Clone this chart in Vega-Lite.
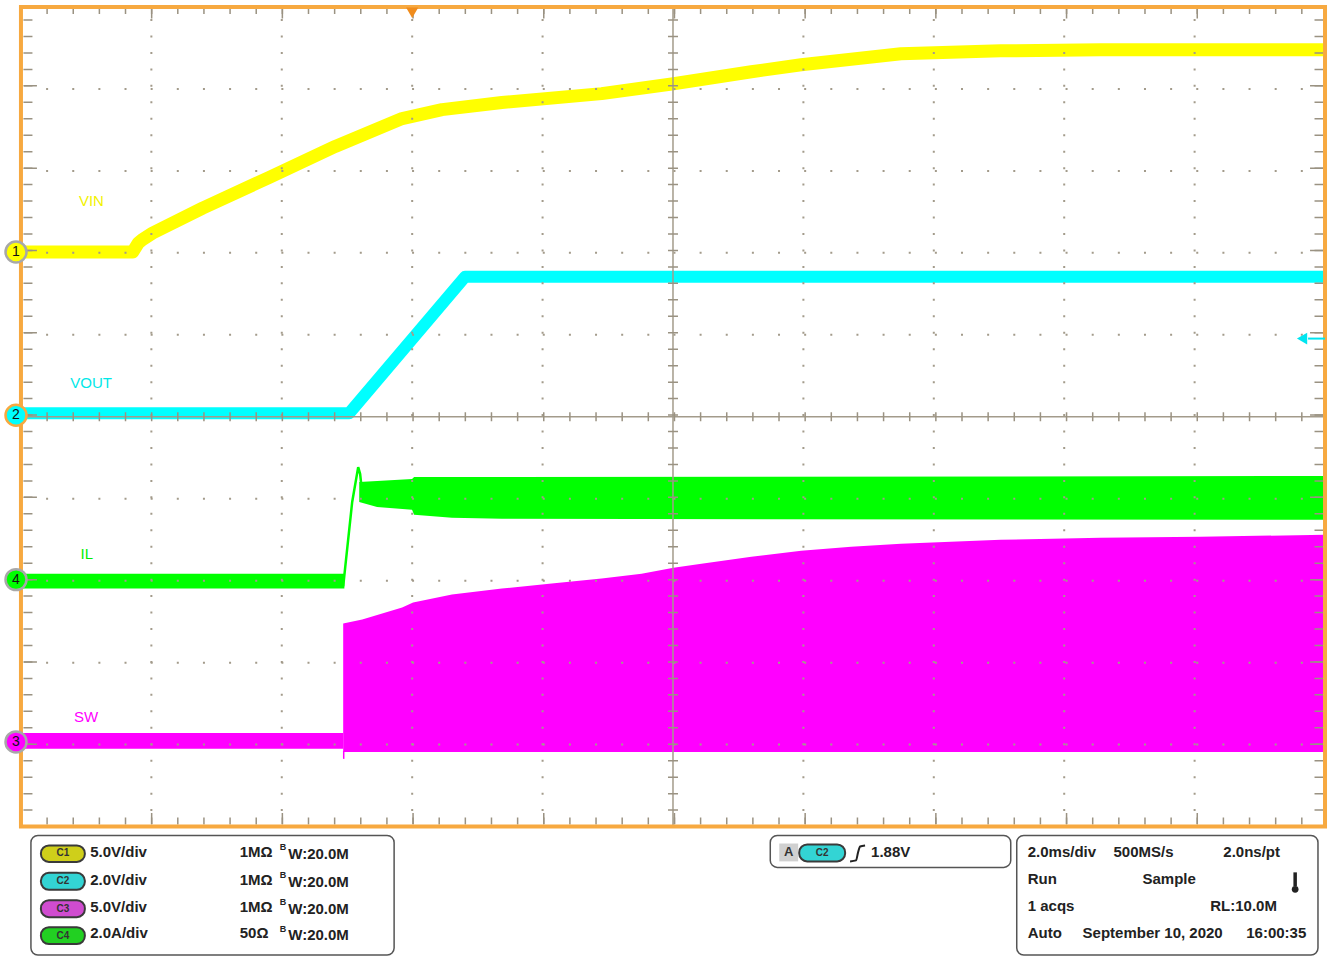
{
"$schema":"https://vega.github.io/schema/vega-lite/v6.json",
"width":1333,"height":958,
"autosize":{"type":"fit","contains":"padding"},
"padding":0,
"background":"#ffffff",
"view":{"stroke":null},
"config":{"font":"Liberation Sans"},
"resolve":{"scale":{"fill":"independent","stroke":"independent","color":"independent"}},
"encoding":{
 "x":{"field":"x","type":"quantitative","scale":{"domain":[-0.13772,10.06121],"nice":false,"zero":false},"axis":null},
 "y":{"field":"y","type":"quantitative","scale":{"domain":[-1.6039,10.0365],"nice":false,"zero":false},"axis":null}
},
"datasets":{
 "vin":[{"x":0,"y":7.011},{"x":0.857,"y":7.011},{"x":0.9,"y":7.12},{"x":0.93,"y":7.16},{"x":1.01,"y":7.242},{"x":1.393,"y":7.546},{"x":1.905,"y":7.922},{"x":2.41,"y":8.299},{"x":2.923,"y":8.639},{"x":3.229,"y":8.748},{"x":3.688,"y":8.834},{"x":4.453,"y":8.943},{"x":5.004,"y":9.064},{"x":5.601,"y":9.21},{"x":5.983,"y":9.295},{"x":6.748,"y":9.429},{"x":7.513,"y":9.465},{"x":8.279,"y":9.478},{"x":10,"y":9.478}],
 "vout":[{"x":0,"y":5.043},{"x":2.517,"y":5.043},{"x":3.405,"y":6.707},{"x":10,"y":6.707}],
 "il":[{"seg":"a","x":0,"y":3.086,"y2":2.904},{"seg":"a","x":2.48,"y":3.086,"y2":2.904},
  {"seg":"b","x":2.594,"y":4.204,"y2":3.961},{"seg":"b","x":2.731,"y":4.216,"y2":3.9},{"seg":"b","x":2.999,"y":4.241,"y2":3.864},{"seg":"b","x":3.015,"y":4.265,"y2":3.803},{"seg":"b","x":3.305,"y":4.265,"y2":3.767},{"seg":"b","x":3.688,"y":4.265,"y2":3.755},{"seg":"b","x":10,"y":4.277,"y2":3.742}],
 "ilspike":[{"x":2.471,"y":2.93},{"x":2.487,"y":3.171},{"x":2.54,"y":3.961},{"x":2.586,"y":4.386},{"x":2.601,"y":4.301},{"x":2.624,"y":3.961}],
 "sw":[{"seg":"a","x":0,"y":1.142,"y2":0.948},{"seg":"a","x":2.471,"y":1.142,"y2":0.948},
  {"seg":"b","x":2.471,"y":2.479,"y2":0.91},{"seg":"b","x":2.617,"y":2.527,"y2":0.91},{"seg":"b","x":2.923,"y":2.673,"y2":0.91},{"seg":"b","x":3.007,"y":2.734,"y2":0.91},{"seg":"b","x":3.305,"y":2.831,"y2":0.91},{"seg":"b","x":3.688,"y":2.904,"y2":0.91},{"seg":"b","x":4.07,"y":2.965,"y2":0.91},{"seg":"b","x":4.453,"y":3.026,"y2":0.91},{"seg":"b","x":4.759,"y":3.086,"y2":0.91},{"seg":"b","x":5.004,"y":3.159,"y2":0.91},{"seg":"b","x":5.218,"y":3.208,"y2":0.91},{"seg":"b","x":5.601,"y":3.293,"y2":0.91},{"seg":"b","x":5.983,"y":3.366,"y2":0.91},{"seg":"b","x":6.366,"y":3.414,"y2":0.91},{"seg":"b","x":6.748,"y":3.451,"y2":0.91},{"seg":"b","x":7.513,"y":3.499,"y2":0.91},{"seg":"b","x":8.279,"y":3.524,"y2":0.91},{"seg":"b","x":9.044,"y":3.536,"y2":0.91},{"seg":"b","x":10,"y":3.56,"y2":0.91}],
 "gridv":[{"x":1,"y":0,"y2":10},{"x":2,"y":0,"y2":10},{"x":3,"y":0,"y2":10},{"x":4,"y":0,"y2":10},{"x":6,"y":0,"y2":10},{"x":7,"y":0,"y2":10},{"x":8,"y":0,"y2":10},{"x":9,"y":0,"y2":10}],
 "gridh":[{"y":1,"x":0,"x2":10},{"y":2,"x":0,"x2":10},{"y":3,"x":0,"x2":10},{"y":4,"x":0,"x2":10},{"y":6,"x":0,"x2":10},{"y":7,"x":0,"x2":10},{"y":8,"x":0,"x2":10},{"y":9,"x":0,"x2":10}],
 "markers":[{"x":-0.038,"y":7.011,"ch":"1"},{"x":-0.038,"y":5.018,"ch":"2"},{"x":-0.038,"y":3.013,"ch":"4"},{"x":-0.038,"y":1.033,"ch":"3"}],
 "tlabels":[{"x":0.54,"y":7.637,"t":"VIN","ch":"1"},{"x":0.538,"y":5.407,"t":"VOUT","ch":"2"},{"x":0.505,"y":3.329,"t":"IL","ch":"4"},{"x":0.5,"y":1.337,"t":"SW","ch":"3"}],
 "boxes":[{"x":0.0765,"x2":2.8615,"y":-0.1094,"y2":-1.5674},{"x":5.746,"x2":7.59,"y":-0.1094,"y2":-0.4982},{"x":7.636,"x2":9.946,"y":-0.1094,"y2":-1.5674}],
 "badges":[{"ch":"C1","x":0.153,"x2":0.49,"y":-0.2309,"y2":-0.4313},{"ch":"C2","x":0.153,"x2":0.49,"y":-0.565,"y2":-0.7716},{"ch":"C3","x":0.153,"x2":0.49,"y":-0.8991,"y2":-1.1057},{"ch":"C4","x":0.153,"x2":0.49,"y":-1.2272,"y2":-1.4338},{"ch":"C2","x":5.968,"x2":6.32,"y":-0.2187,"y2":-0.4253}],
 "badgetext":[{"ch":"C1","x":0.321,"y":-0.328},{"ch":"C2","x":0.321,"y":-0.668},{"ch":"C3","x":0.321,"y":-1.002},{"ch":"C4","x":0.321,"y":-1.33},{"ch":"C2","x":6.144,"y":-0.322}],
 "info":[{"x":0.531,"y":-0.312,"t":"5.0V/div"},{"x":0.531,"y":-0.648,"t":"2.0V/div"},{"x":0.531,"y":-0.981,"t":"5.0V/div"},{"x":0.531,"y":-1.304,"t":"2.0A/div"},
  {"x":1.678,"y":-0.312,"t":"1MΩ"},{"x":1.678,"y":-0.648,"t":"1MΩ"},{"x":1.678,"y":-0.981,"t":"1MΩ"},{"x":1.678,"y":-1.304,"t":"50Ω"},
  {"x":2.05,"y":-0.336,"t":"W:20.0M"},{"x":2.05,"y":-0.672,"t":"W:20.0M"},{"x":2.05,"y":-1.005,"t":"W:20.0M"},{"x":2.05,"y":-1.328,"t":"W:20.0M"},
  {"x":6.519,"y":-0.312,"t":"1.88V"},
  {"x":7.72,"y":-0.316,"t":"2.0ms/div"},{"x":8.378,"y":-0.316,"t":"500MS/s"},{"x":9.22,"y":-0.316,"t":"2.0ns/pt"},
  {"x":7.72,"y":-0.644,"t":"Run"},{"x":8.6,"y":-0.644,"t":"Sample"},
  {"x":7.72,"y":-0.972,"t":"1 acqs"},{"x":9.12,"y":-0.972,"t":"RL:10.0M"},
  {"x":7.72,"y":-1.3,"t":"Auto"},{"x":8.141,"y":-1.3,"t":"September 10, 2020"},{"x":9.396,"y":-1.3,"t":"16:00:35"}],
 "bsup":[{"x":1.985,"y":-0.255,"t":"B"},{"x":1.985,"y":-0.591,"t":"B"},{"x":1.985,"y":-0.924,"t":"B"},{"x":1.985,"y":-1.247,"t":"B"}]
},
"layer":[
 {"data":{"name":"sw"},"mark":{"type":"area","color":"#FF00FF","opacity":1},"encoding":{"y2":{"field":"y2"},"detail":{"field":"seg"}}},
 {"data":{"values":[{"x":2.475,"y":0.923,"y2":0.826}]},"mark":{"type":"rule","color":"#FF00FF","strokeWidth":1.5},"encoding":{"y2":{"field":"y2"}}},
 {"data":{"name":"il"},"mark":{"type":"area","color":"#00FF00","opacity":1},"encoding":{"y2":{"field":"y2"},"detail":{"field":"seg"}}},
 {"data":{"name":"ilspike"},"mark":{"type":"line","color":"#00FF00","strokeWidth":2.5},"encoding":{}},
 {"data":{"name":"vout"},"mark":{"type":"line","color":"#00FFFF","strokeWidth":12,"strokeJoin":"round"},"encoding":{}},
 {"data":{"name":"vin"},"mark":{"type":"line","color":"#FFFF00","strokeWidth":13,"strokeJoin":"round"},"encoding":{}},
 {"data":{"name":"gridv"},"mark":{"type":"rule","color":"#A39B8B","strokeWidth":2,"strokeDash":[2,14.46],"strokeDashOffset":1},"encoding":{"y2":{"field":"y2"}}},
 {"data":{"name":"gridh"},"mark":{"type":"rule","color":"#A39B8B","strokeWidth":2,"strokeDash":[2,24.14],"strokeDashOffset":1},"encoding":{"x2":{"field":"x2"}}},
 {"data":{"values":[{"x":5,"y":0,"y2":10}]},"mark":{"type":"rule","color":"#A39B8B","strokeWidth":1.5},"encoding":{"y2":{"field":"y2"}}},
 {"data":{"values":[{"x":0,"x2":10,"y":5}]},"mark":{"type":"rule","color":"#A39B8B","strokeWidth":1.5},"encoding":{"x2":{"field":"x2"}}},
 {"data":{"values":[{"x":5,"y":0,"y2":10}]},"mark":{"type":"rule","color":"#9A9282","strokeWidth":10,"strokeDash":[1.5,14.96],"strokeDashOffset":0.75},"encoding":{"y2":{"field":"y2"}}},
 {"data":{"values":[{"x":0,"x2":10,"y":5}]},"mark":{"type":"rule","color":"#9A9282","strokeWidth":9,"strokeDash":[1.5,24.64],"strokeDashOffset":0.75},"encoding":{"x2":{"field":"x2"}}},
 {"data":{"values":[{"x":0,"x2":10,"y":9.957},{"x":0,"x2":10,"y":0.0668}]},"mark":{"type":"rule","color":"#9A9282","strokeWidth":7,"strokeDash":[1.5,24.64],"strokeDashOffset":0.75},"encoding":{"x2":{"field":"x2"}}},
 {"data":{"values":[{"x":0,"x2":10,"y":9.927},{"x":0,"x2":10,"y":0.0972}]},"mark":{"type":"rule","color":"#9A9282","strokeWidth":11,"strokeDash":[1.5,129.2],"strokeDashOffset":0.75},"encoding":{"x2":{"field":"x2"}}},
 {"data":{"values":[{"x":0.0536,"y":0,"y2":10},{"x":9.954,"y":0,"y2":10}]},"mark":{"type":"rule","color":"#9A9282","strokeWidth":9,"strokeDash":[1.5,14.96],"strokeDashOffset":0.75},"encoding":{"y2":{"field":"y2"}}},
 {"data":{"values":[{"x":0.0727,"y":0,"y2":10},{"x":9.935,"y":0,"y2":10}]},"mark":{"type":"rule","color":"#9A9282","strokeWidth":13,"strokeDash":[1.5,80.8],"strokeDashOffset":0.75},"encoding":{"y2":{"field":"y2"}}},
 {"data":{"values":[{"x":0,"x2":10,"y":0,"y2":10}]},"mark":{"type":"rect","fillOpacity":0,"stroke":"#F7A940","strokeWidth":4},"encoding":{"x2":{"field":"x2"},"y2":{"field":"y2"}}},
 {"data":{"values":[{"x":3.0,"y":9.93}]},"mark":{"type":"point","shape":"triangle-down","filled":true,"size":150,"color":"#F08C1C","opacity":1},"encoding":{}},
 {"data":{"values":[{"x":9.87,"x2":10,"y":5.954}]},"mark":{"type":"rule","color":"#00E5F0","strokeWidth":2},"encoding":{"x2":{"field":"x2"}}},
 {"data":{"values":[{"x":9.824,"y":5.954}]},"mark":{"type":"point","shape":"triangle-left","filled":true,"size":140,"color":"#00E5F0","opacity":1},"encoding":{}},
 {"data":{"name":"markers"},"mark":{"type":"point","shape":"circle","filled":true,"size":440,"strokeWidth":2.5,"opacity":1},"encoding":{"fill":{"field":"ch","type":"nominal","scale":{"domain":["1","2","3","4"],"range":["#FFFF00","#00FFFF","#FF00FF","#00FF00"]},"legend":null},"stroke":{"field":"ch","type":"nominal","scale":{"domain":["1","2","3","4"],"range":["#A8A8A8","#F7A940","#A8A8A8","#A8A8A8"]},"legend":null}}},
 {"data":{"name":"markers"},"mark":{"type":"text","fontSize":14,"color":"#111111","baseline":"middle","align":"center"},"encoding":{"text":{"field":"ch"}}},
 {"data":{"name":"tlabels"},"mark":{"type":"text","fontSize":15,"font":"Liberation Sans Narrow, Liberation Sans","baseline":"middle","align":"center"},"encoding":{"text":{"field":"t"},"color":{"field":"ch","type":"nominal","scale":{"domain":["1","2","3","4"],"range":["#F2F200","#00E8E8","#FF00FF","#00EE00"]},"legend":null}}},
 {"data":{"name":"boxes"},"mark":{"type":"rect","fill":"#ffffff","stroke":"#555555","strokeWidth":1.5,"cornerRadius":7},"encoding":{"x2":{"field":"x2"},"y2":{"field":"y2"}}},
 {"data":{"values":[{"x":5.815,"x2":5.96,"y":-0.207,"y2":-0.425}]},"mark":{"type":"rect","fill":"#D0D0D0"},"encoding":{"x2":{"field":"x2"},"y2":{"field":"y2"}}},
 {"data":{"values":[{"x":5.888,"y":-0.316,"t":"A"}]},"mark":{"type":"text","fontSize":13,"fontWeight":"bold","color":"#333333","baseline":"middle","align":"center"},"encoding":{"text":{"field":"t"}}},
 {"data":{"name":"badges"},"mark":{"type":"rect","stroke":"#3A3A3A","strokeWidth":2,"cornerRadius":8},"encoding":{"x2":{"field":"x2"},"y2":{"field":"y2"},"fill":{"field":"ch","type":"nominal","scale":{"domain":["C1","C2","C3","C4"],"range":["#CFCF1A","#33D4D4","#D04CD0","#22D022"]},"legend":null}}},
 {"data":{"name":"badgetext"},"mark":{"type":"text","fontSize":10,"fontWeight":"bold","color":"#333333","baseline":"middle","align":"center"},"encoding":{"text":{"field":"ch"}}},
 {"data":{"values":[{"x":6.358,"y":-0.425},{"x":6.404,"y":-0.413},{"x":6.419,"y":-0.316},{"x":6.435,"y":-0.243},{"x":6.473,"y":-0.231}]},"mark":{"type":"line","color":"#222222","strokeWidth":2,"interpolate":"monotone"},"encoding":{}},
 {"data":{"values":[{"x":9.771,"y":-0.559,"y2":-0.729}]},"mark":{"type":"rule","color":"#222222","strokeWidth":3.5},"encoding":{"y2":{"field":"y2"}}},
 {"data":{"values":[{"x":9.771,"y":-0.766}]},"mark":{"type":"point","shape":"circle","filled":true,"size":45,"color":"#222222","opacity":1},"encoding":{}},
 {"data":{"name":"info"},"mark":{"type":"text","align":"left","baseline":"middle","fontSize":15,"fontWeight":"bold","color":"#222222"},"encoding":{"text":{"field":"t"}}},
 {"data":{"name":"bsup"},"mark":{"type":"text","align":"left","baseline":"middle","fontSize":9,"fontWeight":"bold","color":"#222222"},"encoding":{"text":{"field":"t"}}}
]
}
